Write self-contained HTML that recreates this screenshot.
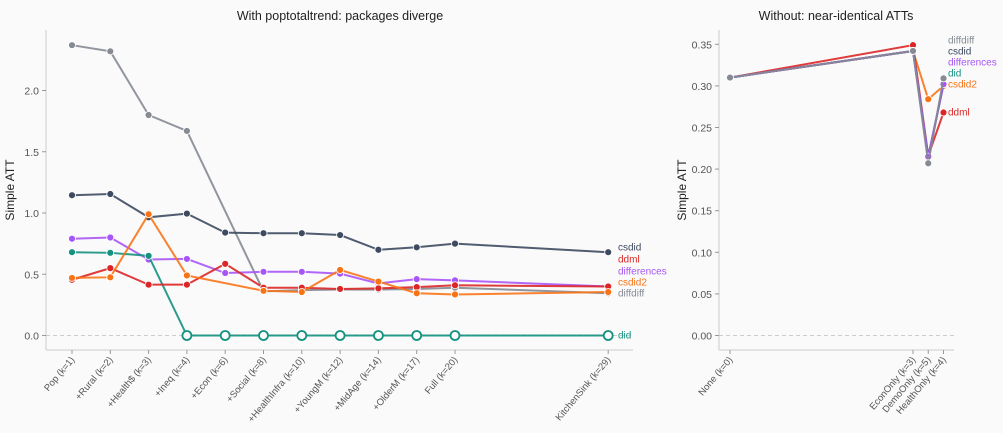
<!DOCTYPE html>
<html><head><meta charset="utf-8">
<style>
body{margin:0;background:#fafafa;font-family:"Liberation Sans",sans-serif;}
svg text{font-family:"Liberation Sans",sans-serif;}
</style></head>
<body>
<svg id="chart" width="1003" height="428" xmlns="http://www.w3.org/2000/svg">
<rect width="1003" height="428" fill="#fafafa"/>
</svg>
<script>
const leftCats = ["Pop (k=1)","+Rural (k=2)","+Health$ (k=3)","+Ineq (k=4)","+Econ (k=6)","+Social (k=8)","+HealthInfra (k=10)","+YoungM (k=12)","+MidAge (k=14)","+OlderM (k=17)","Full (k=20)","KitchenSink (k=29)"];
const leftIdx = [0,1,2,3,4,5,6,7,8,9,10,14];
const leftTicks = [0,0.5,1.0,1.5,2.0];
const L_diffdiff = [2.37,2.32,1.80,1.67,null,0.36,0.37,0.375,0.375,0.38,0.39,0.345];
const L_csdid = [1.145,1.155,0.965,0.995,0.84,0.835,0.835,0.82,0.70,0.72,0.75,0.68];
const L_differences = [0.79,0.80,0.62,0.625,0.51,0.52,0.52,0.505,0.425,0.46,0.45,0.40];
const L_did = [0.68,0.675,0.65,0,0,0,0,0,0,0,0,0];
const L_ddml = [0.455,0.55,0.415,0.415,0.585,0.39,0.39,0.38,0.385,0.395,0.41,0.40];
const L_csdid2 = [0.47,0.475,0.99,0.49,null,0.365,0.355,0.535,0.44,0.345,0.335,0.355];

const rightCats = ["None (k=0)","EconOnly (k=3)","DemoOnly (k=5)","HealthOnly (k=4)"];
const rightIdx = [0,12,13,14];
const rightTicks = [0,0.05,0.10,0.15,0.20,0.25,0.30,0.35];
const R_diffdiff = [0.31,0.342,0.207,0.309];
const R_csdid = [0.31,0.342,0.214,0.302];
const R_differences = [0.31,0.342,0.215,0.302];
const R_did = [0.31,0.342,0.215,0.302];
const R_csdid2 = [0.31,0.342,0.284,0.300];
const R_ddml = [0.31,0.349,0.216,0.268];

const NS="http://www.w3.org/2000/svg";
const svg=document.getElementById('chart');
function mk(t,a,p){const e=document.createElementNS(NS,t);for(const k in a)e.setAttribute(k,a[k]);(p||svg).appendChild(e);return e;}
const C={diffdiff:"#858a93",csdid:"#3d4a60",differences:"#a855f7",did:"#14917f",ddml:"#dc2626",csdid2:"#f97316"};

function panel(o){
  const g=mk('g',{});
  
  
  const X=i=>o.x0+i*o.dx, Y=v=>o.y0-v*o.sy;
  mk('line',{x1:o.l,y1:350,x2:o.r,y2:350,stroke:"#ccc"},g);
  mk('line',{x1:o.l,y1:30,x2:o.l,y2:350,stroke:"#ccc"},g);
  mk('line',{x1:o.l,y1:Y(0),x2:o.r,y2:Y(0),stroke:"#ccc","stroke-dasharray":"4,3"},g);
  o.ticks.forEach(v=>{
    mk('line',{x1:o.l-4,y1:Y(v),x2:o.l,y2:Y(v),stroke:"#999"},g);
    const t=mk('text',{x:o.l-7,y:Y(v)+4,"text-anchor":"end","font-size":10.5,fill:"#555"},g);
    t.textContent=v.toFixed(o.dec);
    
    
  });
  o.cats.forEach((c,i)=>{
    const x=X(o.idx[i]);
    mk('line',{x1:x,y1:350,x2:x,y2:354,stroke:"#999"},g);
    const t=mk('text',{x:x+3,y:360,"text-anchor":"end","font-size":9.5,fill:"#555",transform:`rotate(-50 ${x+3} 360)`},g);
    t.textContent=c;
    
    
  });
  const tt=mk('text',{x:o.tx,y:20,"text-anchor":"middle","font-size":12.5,fill:"#222"},g);
  tt.textContent=o.title;
  
  
  const yl=mk('text',{x:o.yl,y:190,"text-anchor":"middle","font-size":12,fill:"#222",transform:`rotate(-90 ${o.yl} 190)`},g);
  yl.textContent="Simple ATT";
  
  
  o.series.forEach(s=>{
    const pts=[];
    s.vals.forEach((v,i)=>{if(v!==null)pts.push([X(o.idx[i]),Y(v),v]);});
    const pl=mk('polyline',{points:pts.map(p=>p[0]+','+p[1]).join(' '),fill:"none",stroke:C[s.k],"stroke-width":2,"stroke-opacity":0.9},g);
    
    
    pts.forEach(p=>{
      let c;
      if(s.open && p[2]===0) c=mk('circle',{cx:p[0],cy:p[1],r:4.5,fill:"#fafafa",stroke:C[s.k],"stroke-width":1.8},g);
      else c=mk('circle',{cx:p[0],cy:p[1],r:3.5,fill:C[s.k],stroke:"#fff","stroke-width":0.8},g);
      
      
    });
    const lt=mk('text',{x:o.lx,y:s.ly+3.5,"font-size":10,fill:C[s.k]},g);
    lt.textContent=s.k;
    
    
  });
}
panel({name:'left-panel',l:46,r:633,x0:72,dx:38.3,y0:335.5,sy:122.5,ticks:leftTicks,dec:1,cats:leftCats,idx:leftIdx,
  title:"With poptotaltrend: packages diverge",tx:340,yl:14,lx:618,
  series:[{k:'diffdiff',vals:L_diffdiff,ly:293},{k:'csdid',vals:L_csdid,ly:247},{k:'differences',vals:L_differences,ly:271},
  {k:'did',vals:L_did,ly:335,open:true},{k:'ddml',vals:L_ddml,ly:259},{k:'csdid2',vals:L_csdid2,ly:282}]});
panel({name:'right-panel',l:719,r:954,x0:730,dx:15.25,y0:335.5,sy:832,ticks:rightTicks,dec:2,cats:rightCats,idx:rightIdx,
  title:"Without: near-identical ATTs",tx:836,yl:686,lx:948,
  series:[{k:'csdid2',vals:R_csdid2,ly:84},{k:'ddml',vals:R_ddml,ly:112},{k:'did',vals:R_did,ly:73},
  {k:'csdid',vals:R_csdid,ly:51},{k:'differences',vals:R_differences,ly:62},{k:'diffdiff',vals:R_diffdiff,ly:40}]});
</script>
</body></html>
